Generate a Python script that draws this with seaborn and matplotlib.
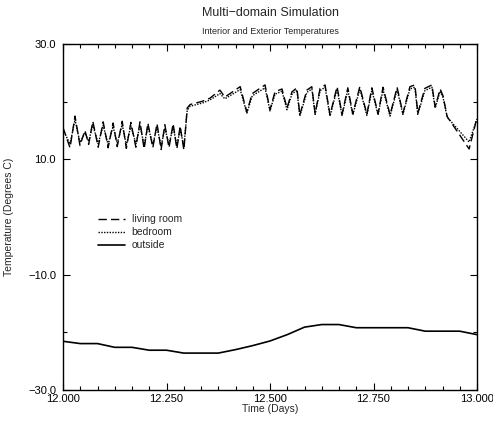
import numpy as np
import pandas as pd
import matplotlib
matplotlib.use("Agg")
import matplotlib.pyplot as plt
from matplotlib.ticker import FixedLocator, FuncFormatter
import seaborn as sns

# ---- data ----
time_in = [
    12.000, 12.017, 12.029, 12.041, 12.053, 12.062, 12.072, 12.085, 12.097, 12.109,
    12.121, 12.131, 12.143, 12.153, 12.164, 12.176, 12.186, 12.196, 12.205, 12.217,
    12.227, 12.237, 12.246, 12.256, 12.266, 12.275, 12.283, 12.292,
    12.300, 12.307, 12.338, 12.355, 12.379, 12.391, 12.428, 12.444, 12.457, 12.488,
    12.500, 12.512, 12.529, 12.541, 12.553, 12.565, 12.572, 12.589, 12.601, 12.609,
    12.621, 12.633, 12.645, 12.662, 12.674, 12.688, 12.700, 12.717, 12.734, 12.746,
    12.761, 12.773, 12.790, 12.807, 12.821, 12.838, 12.850, 12.857, 12.874, 12.891,
    12.899, 12.911, 12.918, 12.928, 12.981, 13.000]

living_room = [
    15.5, 12.0, 17.5, 12.4, 15.0, 12.6, 16.6, 12.1, 16.5, 12.0,
    16.3, 12.2, 16.6, 11.9, 16.4, 12.1, 16.5, 11.8, 16.3, 12.0,
    16.2, 11.7, 16.0, 12.0, 16.2, 11.8, 15.8, 11.6,
    18.9, 19.5, 20.1, 20.6, 22.0, 20.8, 22.6, 18.2, 21.4, 22.9,
    18.6, 21.7, 22.2, 18.9, 21.7, 22.4, 17.7, 22.0, 22.6, 18.0,
    22.3, 22.9, 17.7, 22.6, 17.8, 22.4, 17.9, 22.6, 17.8, 22.4,
    17.9, 22.5, 17.7, 22.5, 18.0, 22.6, 22.9, 18.0, 22.3, 22.9,
    19.1, 22.2, 21.0, 17.4, 11.8, 17.2]

bedroom = [
    15.2, 12.6, 16.9, 12.9, 14.6, 13.1, 16.0, 12.7, 15.9, 12.6,
    15.7, 12.8, 16.0, 12.5, 15.8, 12.7, 15.9, 12.4, 15.7, 12.6,
    15.6, 12.3, 15.4, 12.6, 15.6, 12.4, 15.2, 12.2,
    18.5, 19.2, 19.8, 20.3, 21.4, 20.5, 22.1, 18.0, 21.0, 22.4,
    18.4, 21.3, 21.8, 18.6, 21.3, 22.0, 17.5, 21.6, 22.2, 17.8,
    21.9, 22.5, 17.5, 22.2, 17.6, 22.0, 17.7, 22.2, 17.6, 22.0,
    17.7, 22.1, 17.5, 22.1, 17.8, 22.2, 22.5, 17.8, 21.9, 22.5,
    18.9, 21.8, 20.7, 17.3, 13.0, 17.0]

hours_out = list(range(25))
outside = [
    -21.55, -21.95, -21.95, -22.6, -22.6, -23.1, -23.1, -23.6, -23.6, -23.6,
    -23.0, -22.3, -21.5, -20.4, -19.1, -18.65, -18.65, -19.2, -19.2, -19.2,
    -19.2, -19.8, -19.8, -19.8, -20.4]

title = "Multi\u2212domain Simulation"
subtitle = "Interior and Exterior Temperatures"
xlabel = "Time (Days)"
ylabel = "Temperature (Degrees C)"
xticks_major = [12.0, 12.25, 12.5, 12.75, 13.0]
yticks_major = [-30, -10, 10, 30]

# ---- plot ----
sns.set_theme(style="ticks")
plt.rcParams['font.family'] = ['Liberation Sans', 'DejaVu Sans']

fig = plt.figure(figsize=(4.93, 4.26), dpi=100)
ax = fig.add_axes([63/493, 36/426, 414/493, 346/426])

df_in = pd.DataFrame({"t": time_in, "living": living_room, "bed": bedroom})
df_out = pd.DataFrame({"t": [12 + h/24 for h in hours_out], "out": outside})

sns.lineplot(data=df_in, x="t", y="living", ax=ax, color="black", lw=1.0,
             linestyle=(0, (6, 3)), label="living room")
sns.lineplot(data=df_in, x="t", y="bed", ax=ax, color="black", lw=1.0,
             linestyle=(0, (1, 1)), label="bedroom")
sns.lineplot(data=df_out, x="t", y="out", ax=ax, color="black", lw=1.2,
             linestyle="-", label="outside")

ax.set_xlim(12.0, 13.0)
ax.set_ylim(-30, 30)
ax.xaxis.set_major_locator(FixedLocator(xticks_major))
ax.xaxis.set_minor_locator(FixedLocator([12 + h/24 for h in range(25)]))
ax.yaxis.set_major_locator(FixedLocator(yticks_major))
ax.yaxis.set_minor_locator(FixedLocator([-20, 0, 20]))
ax.xaxis.set_major_formatter(FuncFormatter(lambda v, p: f"{v:.3f}"))
ax.yaxis.set_major_formatter(FuncFormatter(lambda v, p: f"{v:.1f}".replace("-", "\u2212")))

ax.tick_params(which="both", direction="in", top=True, right=True,
               labelsize=8, colors="black")
ax.tick_params(axis="y", which="both", pad=5)
ax.tick_params(axis="x", which="both", pad=3)
ax.tick_params(which="major", length=5, width=0.8)
ax.tick_params(which="minor", length=3, width=0.8)
for s in ax.spines.values():
    s.set_color("black")
    s.set_linewidth(1.0)

ax.set_xlabel(xlabel, fontsize=7.5, labelpad=0)
ax.set_ylabel(ylabel, fontsize=7.5, labelpad=10)

fig.text(270/493, 1 - 13/426, title, ha="center", va="center", fontsize=9)
fig.text(270/493, 1 - 31/426, subtitle, ha="center", va="center", fontsize=6.5)

leg = ax.legend(loc="upper left", bbox_to_anchor=(0.075, 0.52), frameon=False,
                fontsize=7.5, handlelength=2.6, handletextpad=0.6,
                labelspacing=0.3, borderaxespad=0)

fig.savefig("out.png", dpi=100, facecolor="white")
